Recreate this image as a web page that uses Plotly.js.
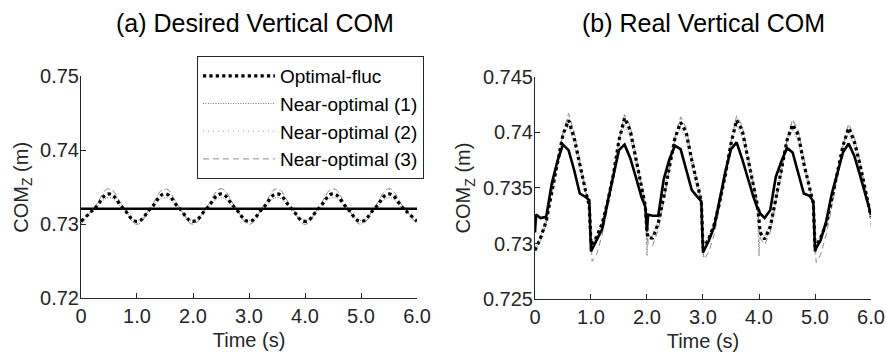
<!DOCTYPE html>
<html>
<head>
<meta charset="utf-8">
<script src="https://cdn.plot.ly/plotly-3.0.1.min.js"></script>
<style>html,body{margin:0;padding:0;background:#fff;}#chart{width:886px;height:354px;}</style>
</head>
<body>
<div id="chart"></div>
<script>
// ---------- Left panel: desired vertical COM ----------
const tL = [0,0.25,0.5,0.75,1,1.25,1.5,1.75,2,2.25,2.5,2.75,3,3.25,3.5,3.75,4,4.25,4.5,4.75,5,5.25,5.5,5.75,6];
const optL = [0.7321,0.7321,0.7321,0.7321,0.7321,0.7321,0.7321,0.7321,0.7321,0.7321,0.7321,0.7321,0.7321,0.7321,0.7321,0.7321,0.7321,0.7321,0.7321,0.7321,0.7321,0.7321,0.7321,0.7321,0.7321];
const flucL = [0.7304,0.7322,0.7341,0.7322,0.7304,0.7322,0.7341,0.7322,0.7304,0.7322,0.7341,0.7322,0.7304,0.7322,0.7341,0.7322,0.7304,0.7322,0.7341,0.7322,0.7304,0.7322,0.7341,0.7322,0.7304];
const n1L = [0.7305,0.7321,0.7336,0.7321,0.7305,0.7321,0.7336,0.7321,0.7305,0.7321,0.7336,0.7321,0.7305,0.7321,0.7336,0.7321,0.7305,0.7321,0.7336,0.7321,0.7305,0.7321,0.7336,0.7321,0.7305];
const n2L = [0.7301,0.7324,0.7347,0.7324,0.7301,0.7324,0.7347,0.7324,0.7301,0.7324,0.7347,0.7324,0.7301,0.7324,0.7347,0.7324,0.7301,0.7324,0.7347,0.7324,0.7301,0.7324,0.7347,0.7324,0.7301];
const n3L = [0.7300,0.7324,0.7348,0.7324,0.7300,0.7324,0.7348,0.7324,0.7300,0.7324,0.7348,0.7324,0.7300,0.7324,0.7348,0.7324,0.7300,0.7324,0.7348,0.7324,0.7300,0.7324,0.7348,0.7324,0.7300];

// ---------- Right panel: real vertical COM ----------
const tR = [0,0.02,0.1,0.2,0.3,0.4,0.5,0.6,0.7,0.8,0.9,0.97,
            1,1.02,1.1,1.2,1.3,1.4,1.5,1.6,1.7,1.8,1.9,1.97,
            2,2.02,2.1,2.2,2.3,2.4,2.5,2.6,2.7,2.8,2.9,2.97,
            3,3.02,3.1,3.2,3.3,3.4,3.5,3.6,3.7,3.8,3.9,3.97,
            4,4.02,4.1,4.2,4.3,4.4,4.5,4.6,4.7,4.8,4.9,4.97,
            5,5.02,5.1,5.2,5.3,5.4,5.5,5.6,5.7,5.8,5.9,5.97,
            6];
const optR = [0.7310,0.7326,0.7323,0.7324,0.7354,0.7374,0.7389,0.7384,0.7366,0.7345,0.7342,0.7339,
              0.7293,0.7295,0.7302,0.7313,0.7338,0.7362,0.7384,0.7389,0.7377,0.7360,0.7342,0.7333,
              0.7311,0.7326,0.7325,0.7325,0.7358,0.7376,0.7388,0.7385,0.7367,0.7348,0.7342,0.7338,
              0.7292,0.7294,0.7302,0.7315,0.7340,0.7365,0.7385,0.7391,0.7376,0.7358,0.7342,0.7332,
              0.7330,0.7327,0.7323,0.7330,0.7360,0.7374,0.7386,0.7382,0.7364,0.7345,0.7343,0.7338,
              0.7293,0.7296,0.7303,0.7320,0.7345,0.7364,0.7382,0.7390,0.7379,0.7362,0.7345,0.7332,
              0.7326];
const flucR = [0.7294,0.7296,0.7305,0.7320,0.7348,0.7372,0.7398,0.7411,0.7395,0.7370,0.7348,0.7334,
               0.7300,0.7299,0.7306,0.7318,0.7338,0.7362,0.7393,0.7413,0.7402,0.7377,0.7353,0.7334,
               0.7310,0.7305,0.7305,0.7318,0.7342,0.7368,0.7395,0.7409,0.7400,0.7375,0.7352,0.7338,
               0.7296,0.7297,0.7304,0.7317,0.7338,0.7362,0.7390,0.7411,0.7402,0.7378,0.7352,0.7335,
               0.7322,0.7310,0.7304,0.7315,0.7340,0.7365,0.7393,0.7407,0.7398,0.7372,0.7350,0.7336,
               0.7297,0.7298,0.7305,0.7318,0.7340,0.7363,0.7388,0.7404,0.7392,0.7372,0.7348,0.7330,
               0.7324];
const n1R = [0.7296,0.7298,0.7307,0.7322,0.7350,0.7374,0.7398,0.7406,0.7390,0.7366,0.7345,0.7333,
             0.7292,0.7300,0.7307,0.7320,0.7340,0.7364,0.7393,0.7407,0.7396,0.7372,0.7350,0.7333,
             0.7289,0.7307,0.7307,0.7320,0.7344,0.7370,0.7395,0.7404,0.7394,0.7370,0.7348,0.7336,
             0.7290,0.7299,0.7306,0.7319,0.7340,0.7364,0.7390,0.7406,0.7396,0.7373,0.7349,0.7334,
             0.7289,0.7310,0.7306,0.7317,0.7342,0.7367,0.7393,0.7402,0.7393,0.7368,0.7347,0.7335,
             0.7291,0.7300,0.7307,0.7320,0.7342,0.7365,0.7388,0.7400,0.7388,0.7368,0.7346,0.7330,
             0.7322];
const n2R = [0.7297,0.7298,0.7306,0.7322,0.7346,0.7370,0.7398,0.7414,0.7402,0.7376,0.7352,0.7336,
             0.7290,0.7300,0.7305,0.7317,0.7336,0.7360,0.7392,0.7415,0.7406,0.7381,0.7356,0.7336,
             0.7288,0.7304,0.7304,0.7316,0.7340,0.7366,0.7394,0.7412,0.7404,0.7379,0.7355,0.7339,
             0.7288,0.7298,0.7303,0.7315,0.7336,0.7360,0.7390,0.7413,0.7406,0.7382,0.7355,0.7337,
             0.7288,0.7308,0.7303,0.7313,0.7338,0.7363,0.7392,0.7410,0.7402,0.7376,0.7353,0.7337,
             0.7289,0.7299,0.7304,0.7316,0.7338,0.7361,0.7387,0.7406,0.7396,0.7376,0.7351,0.7332,
             0.7318];
const n3R = [0.7293,0.7295,0.7303,0.7318,0.7345,0.7370,0.7400,0.7417,0.7400,0.7372,0.7348,0.7335,
             0.7295,0.7284,0.7290,0.7308,0.7332,0.7360,0.7393,0.7416,0.7406,0.7380,0.7354,0.7335,
             0.7308,0.7300,0.7298,0.7312,0.7338,0.7366,0.7396,0.7414,0.7404,0.7378,0.7353,0.7338,
             0.7293,0.7286,0.7292,0.7308,0.7333,0.7360,0.7392,0.7415,0.7406,0.7381,0.7353,0.7336,
             0.7318,0.7305,0.7299,0.7310,0.7336,0.7363,0.7394,0.7412,0.7402,0.7375,0.7351,0.7336,
             0.7294,0.7283,0.7290,0.7308,0.7333,0.7360,0.7388,0.7408,0.7396,0.7374,0.7349,0.7330,
             0.7316];

// ---------- Labels ----------
const seriesNames = ['Optimal-fluc','Near-optimal (1)','Near-optimal (2)','Near-optimal (3)'];
const xTickVals = [0,1,2,3,4,5,6];
const xTickText = ['0','1.0','2.0','3.0','4.0','5.0','6.0'];
const yTickValsL = [0.72,0.73,0.74,0.75];
const yTickTextL = ['0.72','0.73','0.74','0.75'];
const yTickValsR = [0.725,0.73,0.735,0.74,0.745];
const yTickTextR = ['0.725','0.73','0.735','0.74','0.745'];
const titleL = '(a) Desired Vertical COM';
const titleR = '(b) Real Vertical COM';

const styles = [
  {color:'#000000', width:3.2, dash:'dot'},
  {color:'#7a7a7a', width:1, dash:'1px,1.5px'},
  {color:'#9a9a9a', width:1, dash:'1px,4px'},
  {color:'#8c8c8c', width:1, dash:'6px,4px'}
];
const solidStyle = {color:'#000000', width:2.6};

const leftY = [flucL, n1L, n2L, n3L];
const rightY = [flucR, n1R, n2R, n3R];
const traces = [];
const order = [1,2,3,0];
order.forEach(i => {
  traces.push({x:tL, y:leftY[i], xaxis:'x', yaxis:'y', type:'scatter', mode:'lines',
    name:seriesNames[i], legendrank:i+1, line:Object.assign({shape:'spline', smoothing:1.3}, styles[i])});
});
traces.push({x:tL, y:optL, xaxis:'x', yaxis:'y', type:'scatter', mode:'lines', showlegend:false, line:solidStyle});
order.forEach(i => {
  traces.push({x:tR, y:rightY[i], xaxis:'x2', yaxis:'y2', type:'scatter', mode:'lines',
    name:seriesNames[i], showlegend:false, line:styles[i]});
});
traces.push({x:tR, y:optR, xaxis:'x2', yaxis:'y2', type:'scatter', mode:'lines', showlegend:false, line:solidStyle});

const axCol = '#262626';
const font = {family:'Liberation Sans, Arial, sans-serif', size:20, color:axCol};
function xax(domain, anchor){
  return {domain:domain, anchor:anchor, range:[0,6], tickvals:xTickVals, ticktext:xTickText,
    ticks:'inside', ticklen:5, tickcolor:axCol, showline:true, linecolor:axCol, linewidth:1,
    showgrid:false, zeroline:false, tickfont:{size:20, color:axCol},
    title:{text:'Time (s)', font:{size:20, color:axCol}, standoff:6}};
}
function yax(domain, anchor, range, tv, tt){
  return {domain:domain, anchor:anchor, range:range, tickvals:tv, ticktext:tt,
    ticks:'inside', ticklen:5, tickcolor:axCol, showline:true, linecolor:axCol, linewidth:1,
    showgrid:false, zeroline:false, tickfont:{size:20, color:axCol}, ticklabelstandoff:-3,
    title:{text:'COM<sub>Z</sub> (m)', font:{size:20, color:axCol}, standoff:6}};
}
const layout = {
  width:886, height:354, margin:{l:0, r:0, t:0, b:0},
  paper_bgcolor:'#ffffff', plot_bgcolor:'#ffffff', font:font, showlegend:true,
  xaxis: xax([0.0914,0.4707],'y'),
  yaxis: yax([0.157,0.785],'x',[0.72,0.75],yTickValsL,yTickTextL),
  xaxis2: xax([0.6038,0.9831],'y2'),
  yaxis2: yax([0.155,0.783],'x2',[0.725,0.745],yTickValsR,yTickTextR),
  legend:{x:0.2223, y:0.842, xanchor:'left', yanchor:'top', bgcolor:'#ffffff',
    bordercolor:axCol, borderwidth:1, font:{size:19, color:'#000'}, itemwidth:72},
  annotations:[
    {text:titleL, x:255/886, y:1-23/354, xref:'paper', yref:'paper', showarrow:false,
     font:{size:25, color:'#000'}, xanchor:'center', yanchor:'middle'},
    {text:titleR, x:703/886, y:1-23/354, xref:'paper', yref:'paper', showarrow:false,
     font:{size:25, color:'#000'}, xanchor:'center', yanchor:'middle'}
  ]
};
Plotly.newPlot('chart', traces, layout, {staticPlot:true, displayModeBar:false});
</script>
</body>
</html>
